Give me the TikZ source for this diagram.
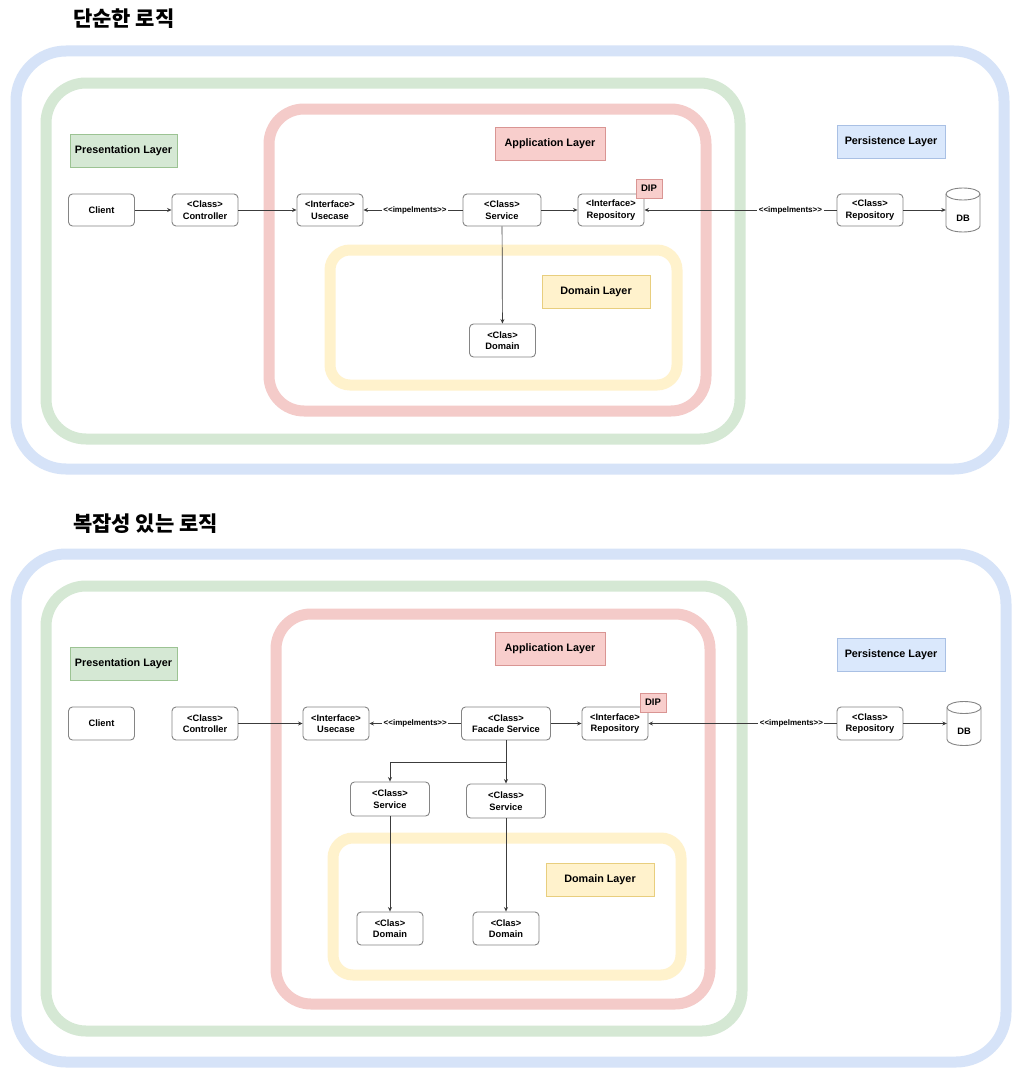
\documentclass[tikz,border=0pt]{standalone}
\usepackage{fontspec}
\setmainfont{Liberation Sans}[Ligatures=TeXOff]
\newfontfamily\krfont{Noto Sans CJK KR}
\usetikzlibrary{arrows.meta}
\definecolor{fblue}{HTML}{D6E3F8}
\definecolor{fgreen}{HTML}{D5E8D4}
\definecolor{fred}{HTML}{F4CBC9}
\definecolor{fyellow}{HTML}{FFF2CC}
\definecolor{lblue}{HTML}{DAE8FC}
\definecolor{lbluedraw}{HTML}{A9C0E4}
\definecolor{lgreen}{HTML}{D5E8D4}
\definecolor{lgreendraw}{HTML}{9CC393}
\definecolor{lred}{HTML}{F8CECC}
\definecolor{lreddraw}{HTML}{D99593}
\definecolor{lyellow}{HTML}{FFF2CC}
\definecolor{lyellowdraw}{HTML}{E8CE7E}
\definecolor{nodegray}{HTML}{858585}
\definecolor{edgegray}{HTML}{3C3C3C}
\tikzset{
  frame/.style={line width=11pt, rounded corners=#1},
  box/.style={draw=nodegray, fill=white, rounded corners=4pt, line width=0.9pt,
    minimum width=66pt, minimum height=32pt, align=center, inner sep=1pt,
    font=\bfseries\fontsize{9.3}{11.6}\selectfont},
  layer/.style={draw, line width=0.6pt, minimum width=108pt, minimum height=33pt, inner sep=1pt,
    font=\bfseries\fontsize{10.8}{12}\selectfont},
  dipbox/.style={draw=lreddraw, fill=lred, line width=0.6pt, minimum width=26pt, minimum height=19pt, inner sep=0pt,
    font=\bfseries\fontsize{9.5}{11}\selectfont},
  conn/.style={draw=edgegray, line width=0.7pt, -{Stealth[length=4.5pt,width=4pt]}},
  lbl/.style={fill=white, inner sep=1.5pt, font=\bfseries\fontsize{8}{9}\selectfont},
  title/.style={anchor=west, inner sep=0pt, font=\krfont\bfseries\fontsize{21}{24}\selectfont},
  dbspace/.style={minimum width=34pt, minimum height=44pt, inner sep=0pt},
}
\newcommand{\dbshape}[2]{% center x, center y
  \draw[draw=nodegray, fill=white, line width=0.9pt]
    (#1-17,#2-16) -- (#1-17,#2+16) arc[start angle=180, end angle=360, x radius=17pt, y radius=6pt]
    -- (#1+17,#2-16) arc[start angle=0, end angle=180, x radius=17pt, y radius=6pt] -- cycle;
  \draw[draw=nodegray, line width=0.9pt]
    (#1-17,#2-16) arc[start angle=180, end angle=360, x radius=17pt, y radius=6pt];
}
\begin{document}
\begin{tikzpicture}[x=1pt, y=-1pt]
\useasboundingbox (0,0) rectangle (1022,1081);
\fill[white] (0,0) rectangle (1022,1081);

% ================= TOP =================
\node[title] (t1) at (73,19) {단순한 로직};

\draw[frame=50pt, fblue] (16,51) rectangle (1004,469);
\draw[frame=40pt, fgreen] (46,83) rectangle (740,439);
\draw[frame=35pt, fred] (269,109) rectangle (706,411);
\draw[frame=20pt, fyellow] (330,250) rectangle (677,385);

\node[layer, draw=lgreendraw, fill=lgreen, minimum width=107pt] (pres1) at (123.5,150.5) {Presentation Layer};
\node[layer, draw=lreddraw, fill=lred, minimum width=110pt] (app1) at (550,143.5) {Application Layer};
\node[layer, draw=lbluedraw, fill=lblue] (pers1) at (891,142) {Persistence Layer};
\node[layer, draw=lyellowdraw, fill=lyellow] (doml1) at (596,291.5) {Domain Layer};

\node[box] (client1) at (101.5,210) {Client};
\node[box] (ctrl1) at (205,210) {<Class>\\Controller};
\node[box] (uc1) at (330,210) {<Interface>\\Usecase};
\node[box, minimum width=78pt] (svc1) at (502,210) {<Class>\\Service};
\node[box] (irepo1) at (611,210) {<Interface>\\Repository};
\node[dipbox] (dip1) at (649,188.5) {DIP};
\node[box] (crepo1) at (870,210) {<Class>\\Repository};
\dbshape{963}{210}
\node[dbspace] (db1) at (963,210) {};
\node[inner sep=0pt, font=\bfseries\fontsize{9.3}{11}\selectfont] (dbt1) at (963,218) {DB};
\node[box, minimum height=33pt] (dom1) at (502.5,340.5) {<Clas>\\Domain};

\draw[conn] (client1) -- (ctrl1);
\draw[conn] (ctrl1) -- (uc1);
\draw[conn] (svc1) -- node[lbl, pos=0.48] {<<impelments>>} (uc1);
\draw[conn] (svc1) -- (irepo1);
\draw[conn] (crepo1) -- node[lbl, pos=0.24] {<<impelments>>} (irepo1);
\draw[conn] (crepo1) -- (db1);
\draw[conn] (svc1) -- (dom1);

% ================= BOTTOM =================
\node[title] (t2) at (73,524) {복잡성 있는 로직};

\draw[frame=50pt, fblue] (16,554) rectangle (1006,1062);
\draw[frame=40pt, fgreen] (46,586) rectangle (742,1031);
\draw[frame=35pt, fred] (276,614) rectangle (710,1004);
\draw[frame=20pt, fyellow] (333,838) rectangle (681,975);

\node[layer, draw=lgreendraw, fill=lgreen, minimum width=107pt] (pres2) at (123.5,663.5) {Presentation Layer};
\node[layer, draw=lreddraw, fill=lred, minimum width=110pt] (app2) at (550,648.5) {Application Layer};
\node[layer, draw=lbluedraw, fill=lblue] (pers2) at (891,655) {Persistence Layer};
\node[layer, draw=lyellowdraw, fill=lyellow] (doml2) at (600,879.5) {Domain Layer};

\node[box, minimum height=33pt] (client2) at (101.5,723.5) {Client};
\node[box, minimum height=33pt] (ctrl2) at (205,723.5) {<Class>\\Controller};
\node[box, minimum height=33pt] (uc2) at (336,723.5) {<Interface>\\Usecase};
\node[box, minimum height=33pt, minimum width=89pt] (fac2) at (506,723.5) {<Class>\\Facade Service};
\node[box, minimum height=33pt] (irepo2) at (615,723.5) {<Interface>\\Repository};
\node[dipbox] (dip2) at (653,702.5) {DIP};
\node[box, minimum height=33pt] (crepo2) at (870,723.5) {<Class>\\Repository};
\dbshape{964}{723.5}
\node[dbspace] (db2) at (964,723.5) {};
\node[inner sep=0pt, font=\bfseries\fontsize{9.3}{11}\selectfont] (dbt2) at (964,731.5) {DB};
\node[box, minimum height=34pt, minimum width=79pt] (s21) at (390,799) {<Class>\\Service};
\node[box, minimum height=34pt, minimum width=79pt] (s22) at (506,801) {<Class>\\Service};
\node[box, minimum height=33pt] (d21) at (390,928.5) {<Clas>\\Domain};
\node[box, minimum height=33pt] (d22) at (506,928.5) {<Clas>\\Domain};

\draw[conn] (ctrl2) -- (uc2);
\draw[conn] (fac2) -- node[lbl, pos=0.5] {<<impelments>>} (uc2);
\draw[conn] (fac2) -- (irepo2);
\draw[conn] (crepo2) -- node[lbl, pos=0.24] {<<impelments>>} (irepo2);
\draw[conn] (crepo2) -- (db2);
\draw[conn] (fac2.south) -- ++(0,22) -| (s21.north);
\draw[conn] (fac2.south) -- (s22.north);
\draw[conn] (s21) -- (d21);
\draw[conn] (s22) -- (d22);
\end{tikzpicture}
\end{document}
